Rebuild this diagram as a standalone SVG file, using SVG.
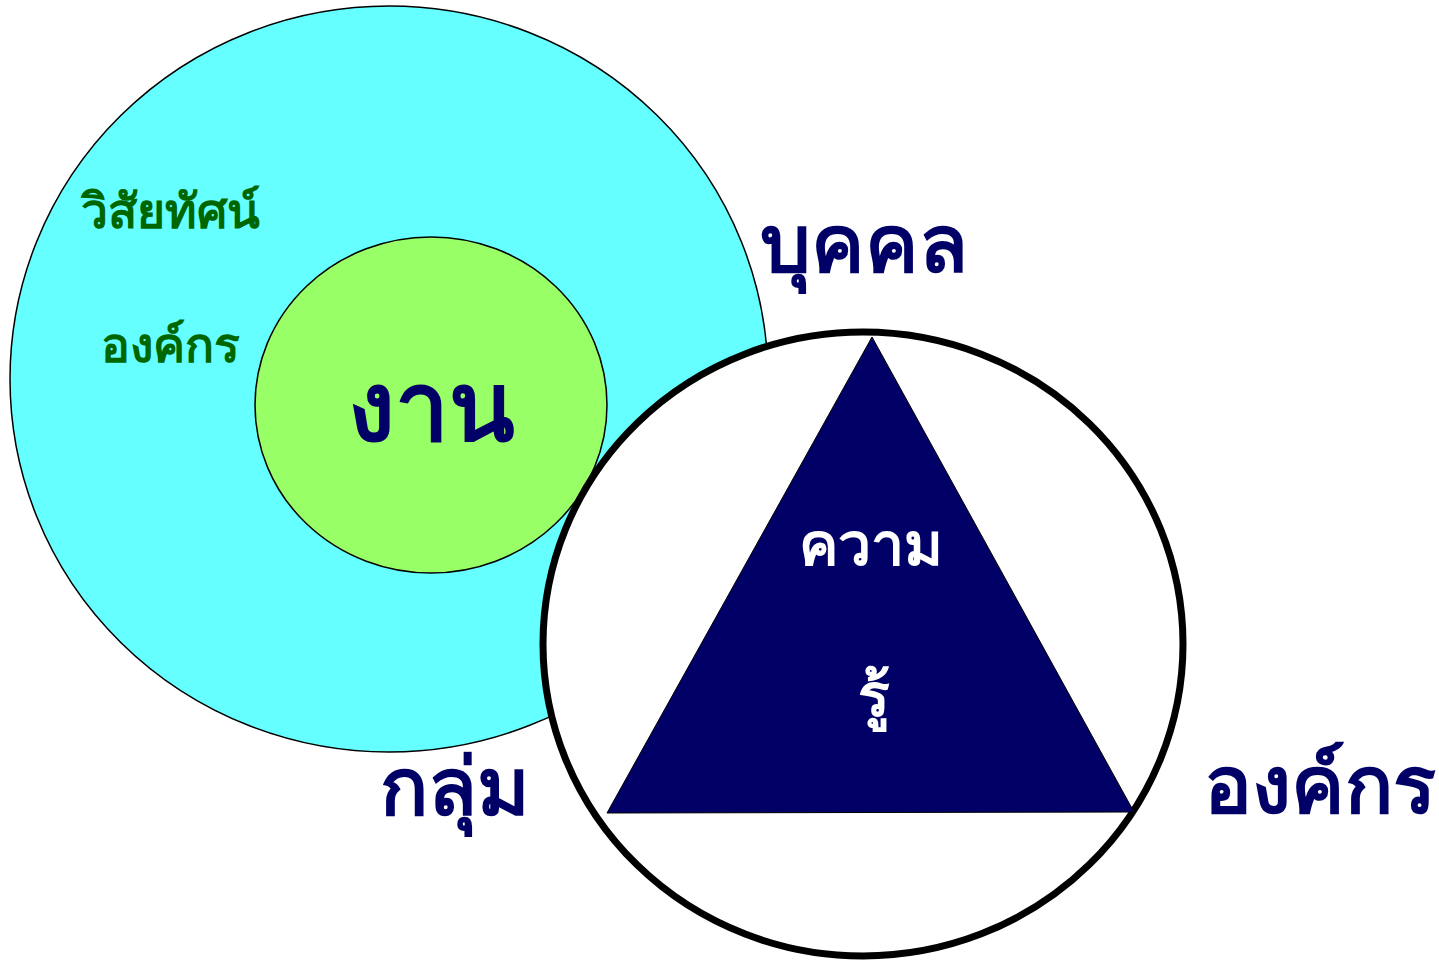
<svg xmlns="http://www.w3.org/2000/svg" width="1439" height="960" viewBox="0 0 1439 960">
<style>
.t{font-family:"Noto Sans","DejaVu Sans","Liberation Sans",sans-serif;font-weight:bold;}
.g{fill:#006600;font-size:48px;}
.n{fill:#000066;}
.w{fill:#ffffff;font-size:59px;}
</style>
<rect width="1439" height="960" fill="#ffffff"/>
<g id="vision">
<ellipse cx="389" cy="379" rx="379" ry="373" fill="#66ffff" stroke="#000" stroke-width="1.5"/>
<text class="t g" x="170" y="228" text-anchor="middle">วิสัยทัศน์</text>
<text class="t g" x="170" y="362" text-anchor="middle">องค์กร</text>
</g>
<g id="work">
<ellipse cx="431" cy="405" rx="176" ry="168" fill="#99ff66" stroke="#000" stroke-width="1.5"/>
<text class="t n" x="431" y="440" text-anchor="middle" font-size="96">งาน</text>
</g>
<g id="knowledge">
<ellipse cx="863" cy="644" rx="320" ry="312" fill="#ffffff" stroke="#000" stroke-width="7"/>
<polygon points="872,337 607,813 1134,812" fill="#000066" stroke="#000" stroke-width="1"/>
<text class="t w" x="871" y="565" text-anchor="middle">ความ</text>
<text class="t w" x="874" y="716" text-anchor="middle">รู้</text>
</g>
<g id="person"><text class="t n" x="864" y="272" text-anchor="middle" font-size="80">บุคคล</text></g>
<g id="group"><text class="t n" x="455" y="815" text-anchor="middle" font-size="80">กลุ่ม</text></g>
<g id="org"><text class="t n" x="1320" y="813" text-anchor="middle" font-size="80">องค์กร</text></g>
</svg>
